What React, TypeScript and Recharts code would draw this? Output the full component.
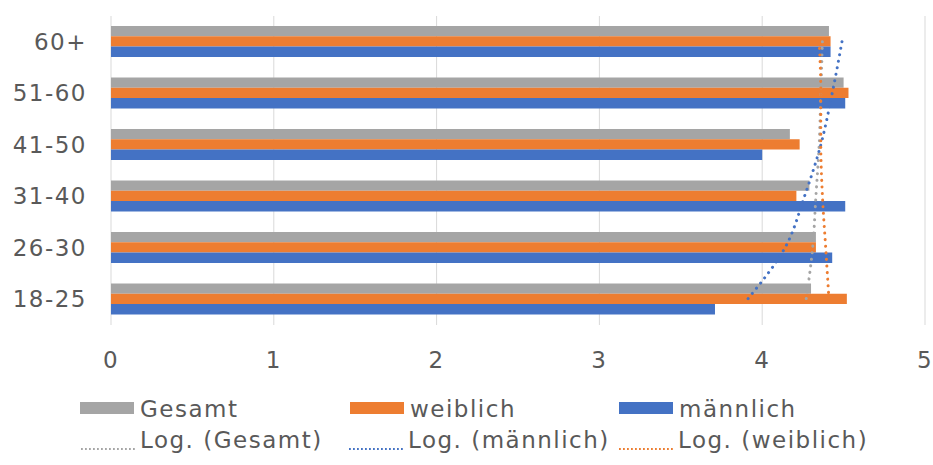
import React from 'react';
import { ComposedChart, Bar, Line, XAxis, YAxis, CartesianGrid, Legend } from 'recharts';

const categories = ['60+', '51-60', '41-50', '31-40', '26-30', '18-25'];
const gesamt = [4.41, 4.5, 4.17, 4.29, 4.33, 4.3];
const weiblich = [4.42, 4.53, 4.23, 4.21, 4.33, 4.52];
const maennlich = [4.42, 4.51, 4.0, 4.51, 4.43, 3.71];
const trendGesamt = [4.37, 4.36, 4.35, 4.33, 4.31, 4.27];
const trendMaennlich = [4.49, 4.43, 4.36, 4.26, 4.14, 3.91];
const trendWeiblich = [4.35, 4.36, 4.36, 4.37, 4.39, 4.41];
const xTicks = [0, 1, 2, 3, 4, 5];

const barSeries = [
  { key: 'gesamt', name: 'Gesamt', color: '#A5A5A5' },
  { key: 'weiblich', name: 'weiblich', color: '#ED7D31' },
  { key: 'maennlich', name: 'männlich', color: '#4472C4' },
];
const trendSeries = [
  { key: 'tGesamt', name: 'Log. (Gesamt)', color: '#A5A5A5' },
  { key: 'tMaennlich', name: 'Log. (männlich)', color: '#4472C4' },
  { key: 'tWeiblich', name: 'Log. (weiblich)', color: '#ED7D31' },
];

const data = categories.map((age, i) => ({
  age,
  gesamt: gesamt[i],
  weiblich: weiblich[i],
  maennlich: maennlich[i],
  tGesamt: trendGesamt[i],
  tMaennlich: trendMaennlich[i],
  tWeiblich: trendWeiblich[i],
}));

const FONT = "'DejaVu Sans', Verdana, sans-serif";
const TEXT = '#595959';

const textStyle: React.CSSProperties = {
  position: 'absolute',
  fontFamily: FONT,
  fontSize: 23,
  lineHeight: '23px',
  letterSpacing: 1.5,
  color: TEXT,
  whiteSpace: 'nowrap',
};

const row1Left = [80, 350, 619];
const row2Left = [80, 348, 618];

const LegendContent = () => (
  <div style={{ position: 'relative', width: 933, height: 77 }}>
    {barSeries.map((s, i) => (
      <React.Fragment key={s.key}>
        <div
          style={{
            position: 'absolute',
            left: row1Left[i],
            top: 14,
            width: 54,
            height: 12,
            background: s.color,
          }}
        />
        <span style={{ ...textStyle, left: row1Left[i] + 60, top: 9.5 }}>{s.name}</span>
      </React.Fragment>
    ))}
    {trendSeries.map((s, i) => (
      <React.Fragment key={s.key}>
        <svg
          style={{ position: 'absolute', left: row2Left[i], top: 58 }}
          width={58}
          height={6}
        >
          <line x1={1} y1={3} x2={57} y2={3} stroke={s.color} strokeWidth={1.8} strokeDasharray="1.8 2.2" />
        </svg>
        <span style={{ ...textStyle, left: row2Left[i] + 60, top: 40.6 }}>{s.name}</span>
      </React.Fragment>
    ))}
  </div>
);

export default function App() {
  return (
    <div style={{ position: 'absolute', left: 0, top: 0, background: '#fff' }}>
      <ComposedChart
        width={933}
        height={465}
        layout="vertical"
        data={data}
        margin={{ top: 16, right: 8, bottom: 100, left: 0 }}
        barGap={0}
        barSize={10.3}
      >
        <CartesianGrid horizontal={false} stroke="#d9d9d9" strokeWidth={1} />
        <XAxis
          type="number"
          domain={[0, 5]}
          ticks={xTicks}
          height={40}
          axisLine={false}
          tickLine={false}
          tickSize={0}
          tickMargin={27}
          tick={{ fontSize: 23, fill: TEXT, fontFamily: FONT, letterSpacing: 1.5 }}
        />
        <YAxis
          type="category"
          dataKey="age"
          width={111}
          axisLine={false}
          tickLine={false}
          tickSize={0}
          tickMargin={24}
          tick={{ fontSize: 23, fill: TEXT, fontFamily: FONT, letterSpacing: 1.5 }}
        />
        {barSeries.map((s) => (
          <Bar key={s.key} dataKey={s.key} name={s.name} fill={s.color} isAnimationActive={false} />
        ))}
        {trendSeries.map((s) => (
          <Line
            key={s.key}
            dataKey={s.key}
            name={s.name}
            type="monotone"
            stroke={s.color}
            strokeWidth={3}
            strokeDasharray="0.1 6.5"
            strokeLinecap="round"
            dot={false}
            activeDot={false}
            isAnimationActive={false}
          />
        ))}
        <Legend
          layout="horizontal"
          verticalAlign="middle"
          align="center"
          wrapperStyle={{ top: 388, left: 0, width: 933, height: 77 }}
          content={LegendContent}
        />
      </ComposedChart>
    </div>
  );
}
